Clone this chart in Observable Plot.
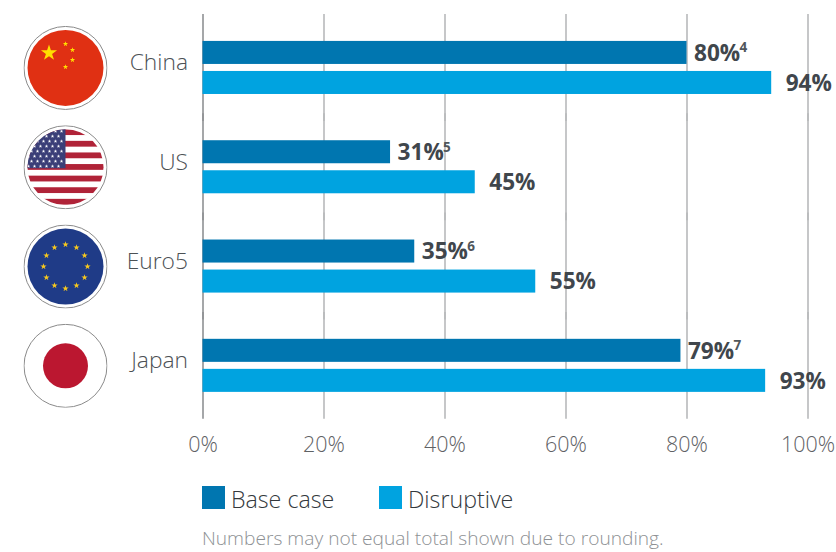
<!DOCTYPE html>
<html>
<head>
<meta charset="utf-8">
<script src="https://cdn.jsdelivr.net/npm/d3@7"></script>
<script src="https://cdn.jsdelivr.net/npm/@observablehq/plot@0.6"></script>
<style>
html,body{margin:0;padding:0;background:#fff;width:836px;overflow:hidden}
#chart svg{display:block;overflow:visible}
#legend{display:flex;align-items:center;margin:20px 0 0 202px;height:23px;font:300 23.2px "Open Sans",sans-serif;color:#33383c}
#legend i{display:block;width:23px;height:23px;margin-right:6px}
#legend span{display:block;position:relative;top:1px}
#legend .item{display:flex;align-items:center;margin-right:0}
#caption{margin:16px 0 0 202px;font:300 19.17px "Open Sans",sans-serif;color:#8e9194;white-space:nowrap}
</style>
</head>
<body>
<div id="chart"></div>
<div id="legend"></div>
<div id="caption"></div>
<script>
const countries = ["China", "US", "Euro5", "Japan"];
const series = ["Base case", "Disruptive"];
const baseCase = [80, 31, 35, 79];
const disruptive = [94, 45, 55, 93];
const footnotes = ["4", "5", "6", "7"];
const xTicks = [0, 20, 40, 60, 80, 100];
const seriesColors = ["#0076b0", "#00a3e0"];
const captionText = "Numbers may not equal total shown due to rounding.";

function star(cx, cy, r, fill) {
  const pts = d3.range(10).map(i => {
    const a = -Math.PI / 2 + i * Math.PI / 5, q = i % 2 ? r * 0.382 : r;
    return (cx + q * Math.cos(a)).toFixed(2) + "," + (cy + q * Math.sin(a)).toFixed(2);
  }).join(" ");
  return `<polygon points="${pts}" fill="${fill}"/>`;
}
function flag(inner) {
  const svg = `<svg xmlns="http://www.w3.org/2000/svg" viewBox="0 0 84 84" width="84" height="84">
  <defs><clipPath id="c"><circle cx="42" cy="42" r="38"/></clipPath></defs>
  <circle cx="42" cy="42" r="41.5" fill="#fff" stroke="#8a8a8a" stroke-width="1"/>
  <g clip-path="url(#c)">${inner}</g></svg>`;
  return "data:image/svg+xml;utf8," + encodeURIComponent(svg);
}
const flagChina = flag(`<rect width="84" height="84" fill="#e03013"/>` +
  star(25.5, 27, 8.5, "#ffdf00") + star(42, 18, 2.8, "#ffdf00") + star(49, 24, 2.8, "#ffdf00") +
  star(49, 34, 2.8, "#ffdf00") + star(42, 41, 2.8, "#ffdf00"));
const flagUS = flag((() => {
  let s = `<rect width="84" height="84" fill="#fff"/>`;
  for (let i = 0; i < 7; i++) s += `<rect x="0" y="${4 + i * 11.6}" width="84" height="5.8" fill="#b02338"/>`;
  s += `<rect x="0" y="0" width="42" height="43" fill="#3b3f78"/>`;
  for (let r = 0; r < 8; r++) for (let c = 0; c < 7; c++) {
    const x = 5 + c * 6 + (r % 2 ? 0 : 3), y = 6 + r * 5;
    if (x < 41) s += star(x, y, 1.9, "#fff");
  }
  return s;
})());
const flagEU = flag(`<rect width="84" height="84" fill="#1f3b87"/>` +
  d3.range(12).map(i => star(42 + 22 * Math.cos(i * Math.PI / 6), 42 + 22 * Math.sin(i * Math.PI / 6), 3.3, "#f7c81e")).join(""));
const flagJapan = flag(`<circle cx="42" cy="42" r="22.5" fill="#bb1730"/>`);
const flags = [flagChina, flagUS, flagEU, flagJapan];

const rows = countries.flatMap((c, i) => [
  {country: c, series: series[0], value: baseCase[i], note: footnotes[i]},
  {country: c, series: series[1], value: disruptive[i], note: ""}
]);
const flagRows = countries.map((c, i) => ({country: c, src: flags[i]}));
const ff = '"Open Sans", sans-serif';
const ink = "#40464c";

const plot = Plot.plot({
  width: 836, height: 466,
  marginLeft: 202.5, marginRight: 28.5, marginTop: 17.8, marginBottom: 51,
  style: {fontFamily: ff, background: "#fff", overflow: "visible"},
  x: {domain: [0, 100]},
  y: {domain: series, paddingInner: 7 / 30, paddingOuter: 0.77, round: false, axis: null},
  fy: {domain: countries, padding: 0, round: false, label: null},
  color: {domain: series, range: seriesColors},
  marks: [
    Plot.ruleX(xTicks.filter(d => d > 0), {x: d => d, stroke: "#b8b9bb", strokeWidth: 1.6, insetTop: -3.8, insetBottom: -3.8}),
    Plot.ruleX([0], {stroke: "#8f9194", strokeWidth: 1.6, insetTop: -3.8, insetBottom: -3.8}),
    Plot.barX(rows, {x: "value", y: "series", fy: "country", fill: "series"}),
    Plot.text(rows.filter(d => d.series === series[0]), {x: "value", y: "series", fy: "country", text: d => d.value + "%", dx: 7, dy: 0.7, textAnchor: "start", fontSize: 22.6, fontWeight: 700, fill: ink}),
    Plot.text(rows.filter(d => d.series === series[1]), {x: "value", y: "series", fy: "country", text: d => d.value + "%", dx: 14, dy: 0.7, textAnchor: "start", fontSize: 22.6, fontWeight: 700, fill: ink}),
    Plot.text(rows.filter(d => d.note), {x: "value", y: "series", fy: "country", text: "note", dx: 52.5, dy: -5, textAnchor: "start", fontSize: 13.5, fontWeight: 700, fill: "#50565b"}),
    Plot.image(flagRows, {fy: "country", src: "src", frameAnchor: "left", dx: -137.5, width: 84, height: 84}),
    Plot.axisFy({anchor: "left", tickSize: 0, tickPadding: 15, dy: -4.8, fontSize: 22.8, fontWeight: 300, fill: "#4c5155", label: null}),
    Plot.axisX(xTicks, {anchor: "bottom", tickSize: 0, tickPadding: 21, fontSize: 21.5, fontWeight: 300, fill: "#5f6265", tickFormat: d => d + "%", label: null})
  ]
});
document.getElementById("chart").append(plot);

const legend = document.getElementById("legend");
series.forEach((s, i) => {
  const item = document.createElement("div");
  item.className = "item";
  item.style.width = i === 0 ? "177px" : "auto";
  const sw = document.createElement("i");
  sw.style.background = seriesColors[i];
  const t = document.createElement("span");
  t.textContent = s;
  item.append(sw, t);
  legend.append(item);
});
document.getElementById("caption").textContent = captionText;
</script>
</body>
</html>
